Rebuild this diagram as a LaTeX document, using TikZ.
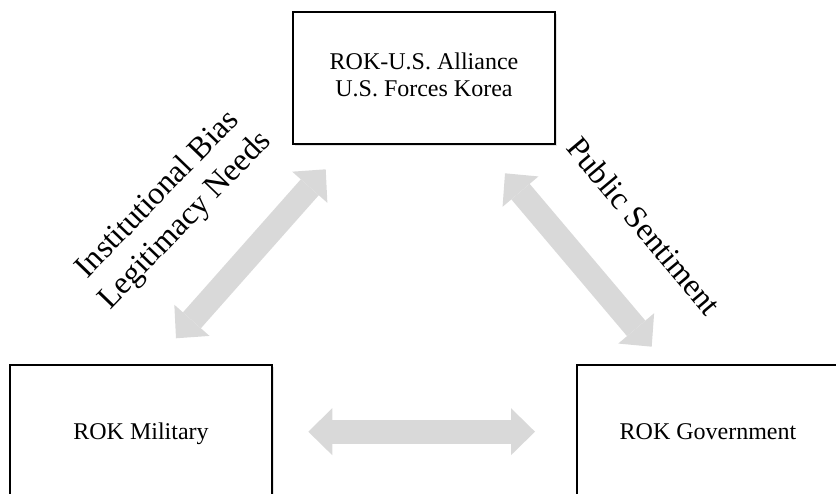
\documentclass[tikz,border=0pt]{standalone}
\usepackage{fontspec}
\setmainfont{Liberation Serif}
\usetikzlibrary{arrows.meta,shadows}
\definecolor{arrowgray}{HTML}{D9D9D9}
\newcommand\myboxstrut{\rule[-5.4pt]{0pt}{27.4pt}}
\tikzset{
  boxnode/.style={draw=black, line width=1.1pt, fill=white, minimum width=262pt, minimum height=132pt,
    align=center, inner sep=0pt, font=\fontsize{24}{27}\selectfont,
    drop shadow={shadow xshift=2pt, shadow yshift=-2.5pt, opacity=0.22}},
  biarrow/.style={draw=arrowgray, line width=24pt,
    {Triangle[length=24pt, width=47pt, line width=0pt]}-{Triangle[length=24pt, width=47pt, line width=0pt]}},
  lbl/.style={align=center, inner sep=0pt, font=\fontsize{32}{38}\selectfont}
}
\begin{document}
\begin{tikzpicture}[x=1pt, y=-1pt]
\useasboundingbox (0,0) rectangle (836,494);
\node[boxnode] (top) at (424,78) {ROK-U.S. Alliance\strut\\U.S. Forces Korea\strut};
\node[boxnode] (mil) at (141,431) {ROK Military\myboxstrut};
\node[boxnode] (gov) at (708,431) {ROK Government\myboxstrut};
\coordinate (tl) at (325.7,169.3);
\coordinate (ml) at (176,338.3);
\coordinate (tr) at (505,173.3);
\coordinate (gr) at (651.7,346.7);
\coordinate (mb) at (308.3,431.7);
\coordinate (gb) at (535,431.7);
\draw[biarrow] (ml) -- (tl);
\draw[biarrow] (tr) -- (gr);
\draw[biarrow] (mb) -- (gb);
\node[lbl, rotate=46] (lab1) at (172,208) {Institutional Bias\\Legitimacy Needs};
\node[lbl, rotate=-50] (lab2) at (644,226) {Public Sentiment};
\end{tikzpicture}
\end{document}
